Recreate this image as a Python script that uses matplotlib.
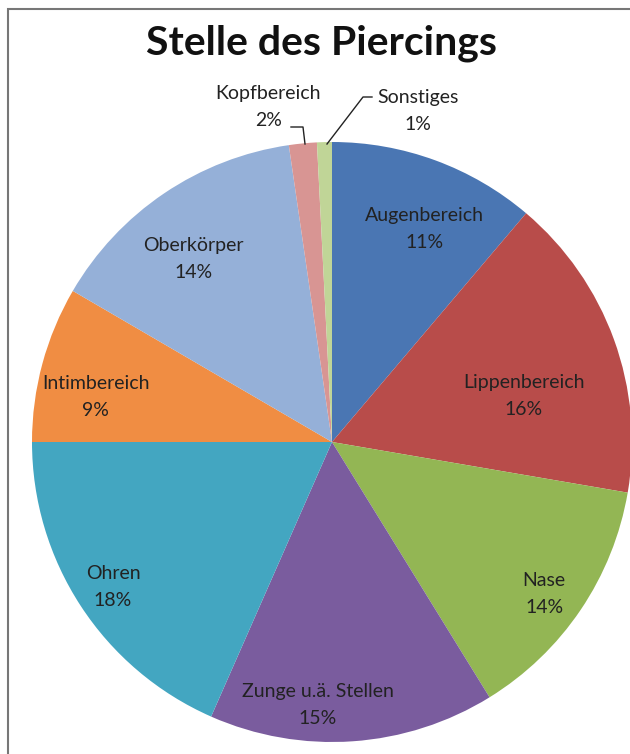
import matplotlib.pyplot as plt
import matplotlib.patches as patches
import numpy as np

categories = ['Augenbereich', 'Lippenbereich', 'Nase', 'Zunge u.ä. Stellen', 'Ohren',
              'Intimbereich', 'Oberkörper', 'Kopfbereich', 'Sonstiges']
shares = [11.2, 16.5, 13.5, 15.4, 18.4, 8.4, 14.3, 1.5, 0.8]
pct_labels = ['11%', '16%', '14%', '15%', '18%', '9%', '14%', '2%', '1%']
colors = ['#4A76B3', '#B84C4A', '#93B654', '#7A5C9E', '#43A6C1',
          '#F08D43', '#95B0D8', '#D89593', '#C0D597']

# label centres, in units of the pie radius (Excel "best fit" layout)
label_pos = [(0.307, 0.71), (0.64, 0.153), (0.707, -0.507), (-0.047, -0.877),
             (-0.73, -0.483), (-0.787, 0.15), (-0.463, 0.61), (-0.213, 1.117), (0.287, 1.103)]

plt.rcParams['font.family'] = ['Lato', 'DejaVu Sans']

W, H = 630, 754
fig = plt.figure(figsize=(W / 100, H / 100), dpi=100)

# chart border (only top/left visible in the crop)
fig.patches.append(patches.Rectangle((8 / W, -0.1), 1.1, (H - 9) / H + 0.1,
                                     transform=fig.transFigure, fill=False,
                                     edgecolor='#777777', linewidth=1.5))

fig.text(322 / W, 1 - 43 / H, 'Stelle des Piercings', ha='center', va='center',
         fontsize=29.5, fontweight='bold', color='#111111')

cx, cy, R = 332, 442, 300
ax = fig.add_axes([(cx - R) / W, (H - cy - R) / H, 2 * R / W, 2 * R / H])

wedges, _ = ax.pie(shares, colors=colors, startangle=90, counterclock=False,
                   radius=1, wedgeprops=dict(linewidth=0))
for w in wedges:
    w.set_clip_on(False)
ax.set_xlim(-1, 1)
ax.set_ylim(-1, 1)
ax.set_aspect('equal')
ax.axis('off')

for name, pct, (lx, ly) in zip(categories, pct_labels, label_pos):
    ax.text(lx, ly, f'{name}\n{pct}', ha='center', va='center', fontsize=14,
            color='#222222', linespacing=1.7)

# leader lines for the two small slices
def px(x, y):
    return ((x - cx) / R, (cy - y) / R)

for pts in ([(291, 127), (303, 127), (305, 144)],
            [(372, 97), (363, 97), (327, 144)]):
    xs, ys = zip(*[px(*p) for p in pts])
    ax.plot(xs, ys, color='#222222', linewidth=1, clip_on=False)

fig.savefig('out.png', dpi=100)
